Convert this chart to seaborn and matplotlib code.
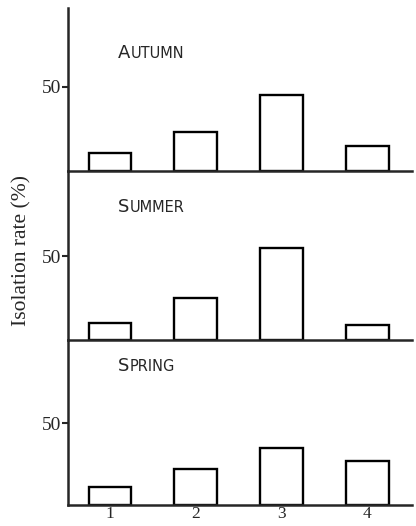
import matplotlib
matplotlib.use("Agg")
import matplotlib.pyplot as plt
import seaborn as sns
import pandas as pd
from matplotlib.offsetbox import TextArea, HPacker, AnchoredOffsetbox

sites = ["1", "2", "3", "4"]
autumn = [11, 23, 45, 15]
summer = [10, 25, 55, 9]
spring = [11, 22, 35, 27]
seasons = ["Autumn", "Summer", "Spring"]
values = [autumn, summer, spring]
ylims = [97, 100.6, 101]
label_y = [70, 79, 85]

sns.set_style("ticks")
plt.rcParams["font.family"] = ["Liberation Serif", "DejaVu Serif"]

fig = plt.figure(figsize=(4.16, 5.26), dpi=100)
left = 68 / 416
width = (412 - 68) / 416
panels_px = [(8, 171), (171, 340), (340, 505)]

for i, (season, vals) in enumerate(zip(seasons, values)):
    top_px, bot_px = panels_px[i]
    ax = fig.add_axes([left, 1 - bot_px / 526, width, (bot_px - top_px) / 526])
    df = pd.DataFrame({"site": sites, "rate": vals})
    sns.barplot(data=df, x="site", y="rate", ax=ax, color="white",
                edgecolor="black", linewidth=1.7, width=0.5)
    ax.set_xlim(-0.49, 3.52)
    ax.set_ylim(0, ylims[i])
    ax.set_yticks([50])
    ax.set_yticklabels(["50"], fontsize=14)
    ax.tick_params(axis="y", length=4, width=1.5, pad=1, direction="out")
    ax.set_xlabel("")
    ax.set_ylabel("")
    for s in ["top", "right"]:
        ax.spines[s].set_visible(False)
    for s in ["left", "bottom"]:
        ax.spines[s].set_linewidth(1.8)
    ax.patch.set_alpha(0)
    if i < 2:
        ax.set_xticklabels([])
        ax.tick_params(axis="x", length=0)
    else:
        ax.tick_params(axis="x", length=0, pad=1, labelsize=12.5)
    # small-caps season label
    word = season.upper()
    ta1 = TextArea(word[0], textprops=dict(fontsize=13, family="DejaVu Sans"))
    ta2 = TextArea(word[1:], textprops=dict(fontsize=10.5, family="DejaVu Sans"))
    pack = HPacker(children=[ta1, ta2], align="baseline", pad=0, sep=0.3)
    anch = AnchoredOffsetbox(loc="center left", child=pack, pad=0, borderpad=0,
                             frameon=False, bbox_to_anchor=(0.09, label_y[i]),
                             bbox_transform=ax.transData)
    ax.add_artist(anch)

fig.text(22 / 416, 1 - 251 / 526, "Isolation rate (%)", rotation=90,
         ha="center", va="center", fontsize=15.5)

fig.savefig("out.png", dpi=100)
